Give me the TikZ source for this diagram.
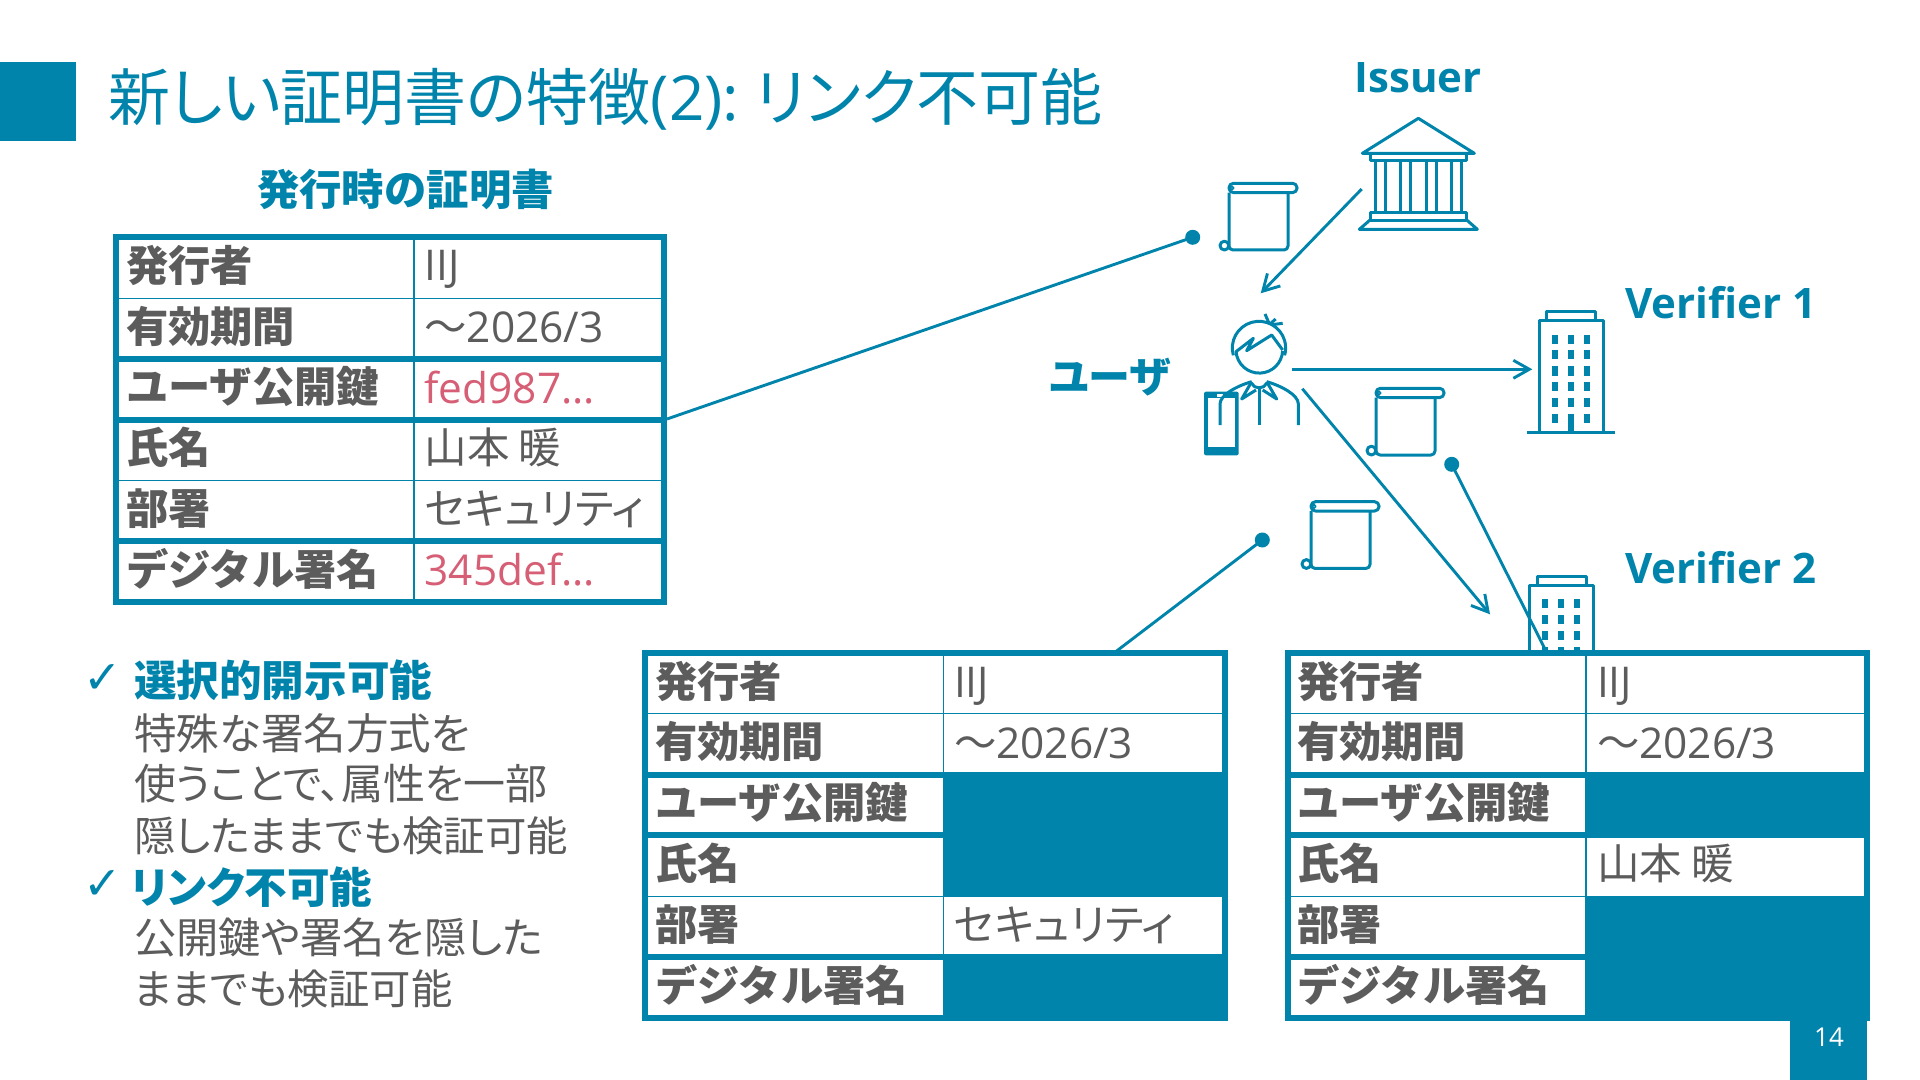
\documentclass[tikz,border=0pt]{standalone}
\usepackage{fontspec}
\usetikzlibrary{arrows.meta}
\setmainfont{Open Sans}
\newfontfamily\jp{Noto Sans CJK JP}
\newfontfamily\jpp[RawFeature={+palt}]{Noto Sans CJK JP}
\newfontfamily\sym{DejaVu Sans}
\definecolor{brand}{HTML}{0084AB}
\definecolor{ink}{HTML}{5C5C5C}
\definecolor{keyred}{HTML}{D65E75}
\tikzset{
  txt/.style={anchor=base west,inner sep=0pt,outer sep=0pt},
  lab/.style={txt,text=ink,font=\jp\bfseries\fontsize{21.15}{21}\selectfont},
  val/.style={txt,text=ink,font=\fontsize{21.2}{21}\selectfont},
  jpval/.style={val,font=\jpp\fontsize{21.25}{21}\selectfont},
  redval/.style={val,text=keyred},
  note/.style={txt,text=ink,font=\jpp\fontsize{#1}{21}\selectfont},
  notehead/.style={txt,text=brand,font=\jpp\bfseries\fontsize{21.3}{21}\selectfont},
  actor/.style={txt,text=brand,font=\bfseries\fontsize{21}{21}\selectfont},
  tick/.style={anchor=center,inner sep=0pt,text=brand,font=\sym\bfseries\fontsize{23}{23}\selectfont},
  icon/.style={draw=brand,line width=1.5pt,line join=round},
  link/.style={draw=brand,line width=1.45pt},
  flow/.style={link,-{Straight Barb[length=8pt,width=9pt,line width=1.45pt]}},
  dot/.style={circle,fill=brand,inner sep=0pt,minimum size=7.5pt},
  heavy/.style={draw=brand,line width=3pt},
  hair/.style={draw=brand,line width=0.6pt},
}
\newcommand{\rowy}[2]{#1+60.83*#2}
\newcommand{\certframe}[4]{% L C R T
  \fill[white] (#1,#4) rectangle (#3,{\rowy{#4}{6}});
  \draw[hair] (#2,#4) -- (#2,{\rowy{#4}{6}});
  \draw[hair] (#1,{\rowy{#4}{1}}) -- (#3,{\rowy{#4}{1}});
  \draw[hair] (#1,{\rowy{#4}{4}}) -- (#3,{\rowy{#4}{4}});
  \draw[heavy] (#1,{\rowy{#4}{2}}) -- (#3,{\rowy{#4}{2}});
  \draw[heavy] (#1,{\rowy{#4}{3}}) -- (#3,{\rowy{#4}{3}});
  \draw[heavy] (#1,{\rowy{#4}{5}}) -- (#3,{\rowy{#4}{5}});
}
\newcommand{\certborder}[4]{%
  \draw[heavy] (#1,#4) rectangle (#3,{\rowy{#4}{6}});
}
\newcommand{\certlabels}[3]{% prefix, x, T
  \node[lab] (#1a) at (#2,{\rowy{#3}{0}+44}) {発行者};
  \node[lab] (#1b) at (#2,{\rowy{#3}{1}+44}) {有効期間};
  \node[lab] (#1c) at (#2,{\rowy{#3}{2}+44}) {ユーザ公開鍵};
  \node[lab] (#1d) at (#2,{\rowy{#3}{3}+44}) {氏名};
  \node[lab] (#1e) at (#2,{\rowy{#3}{4}+44}) {部署};
  \node[lab] (#1f) at (#2,{\rowy{#3}{5}+44}) {デジタル署名};
}
\newcommand{\scrollicon}[2]{%
  \begin{scope}[shift={(#1,#2)}]
    \draw[icon,rounded corners=2.2pt] (1,9.3) rectangle (69,0);
    \draw[icon,rounded corners=2pt] (1,9.3) -- (1,66.7) -- (60,66.7) -- (60,9.3);
    \draw[icon] (-3.6,62.3) circle[radius=4.4];
    \draw[icon,line width=0.8pt] (4,4.7) circle[radius=1.8];
  \end{scope}
}
\newcommand{\towericon}[3]{%
  \begin{scope}[shift={(#1,#2)}]
    \draw[icon] (7.7,9) rectangle (56.7,0);
    \draw[icon] (0,121) -- (0,9) -- (64.3,9) -- (64.3,121);
    \ifnum#3=1
    \draw[icon] (-12.3,121) -- (76,121);
    \fi
    \foreach \wx in {16,32,48}
      \foreach \wy in {27.6,43.3,59.3,75,91,106.6}
        \fill[brand] ({\wx-3},{\wy-4.5}) rectangle ({\wx+3},{\wy+4.5});
    \fill[brand] (29,102) rectangle (35,121);
  \end{scope}
}
\begin{document}
\begin{tikzpicture}[x=0.5pt,y=-0.5pt]
\useasboundingbox (0,0) rectangle (1920,1080);
% slide furniture
\fill[brand] (0,62.5) rectangle (76,141);
\fill[brand] (1790,1015) rectangle (1867,1080);
\node[anchor=center,inner sep=0pt,text=white,font=\fontsize{13}{13}\selectfont] (pageno) at (1829,1037) {14};
\node[txt,text=brand,font=\fontsize{31}{31}\selectfont] (title) at (108,121) {{\jpp 新しい証明書の特徴}(2):\hspace{8pt}{\jpp リンク不可能}};
\node[txt,text=brand,font=\jp\bfseries\fontsize{21.2}{21}\selectfont] (issuedhead) at (257,206) {発行時の証明書};

% actors
\node[actor,anchor=base] (issuerlabel) at (1418,93) {Issuer};
\node[actor] (v1label) at (1625,319) {Verifier 1};
\node[actor] (v2label) at (1625,583) {Verifier 2};
\node[actor,font=\jpp\bfseries\fontsize{21}{21}\selectfont] (userlabel) at (1049,393) {ユーザ};

% bank
\begin{scope}[shift={(1150,40)},x=0.16667pt,y=-0.16667pt]
  \draw[icon] (637,340) -- (805,235) -- (973,340) -- cycle;
  \draw[icon] (660,340) rectangle (950,362);
  \foreach \cx in {675,705,752,780,828,858,905,935}
    \draw[icon] (\cx,362) -- (\cx,518);
  \draw[icon] (660,518) rectangle (950,540);
  \draw[icon] (660,540) -- (628,568) -- (982,568) -- (950,540);
\end{scope}

% user
\begin{scope}[shift={(1180,300)},x=0.16667pt,y=-0.16667pt]
  \fill[brand,rounded corners=1pt] (72,275) rectangle (176,466);
  \fill[white] (85,295) rectangle (164,441);
  \fill[white] (110,282) rectangle (128,290);
  \draw[icon] (160,166) arc[start angle=164,end angle=376,radius=80];
  \draw[icon] (168,153) arc[start angle=177,end angle=3,radius=70];
  \draw[icon] (168,155) -- (220,115) -- (200,152) -- (275,105) -- (308,150);
  \draw[icon] (255,42) -- (268,72);
  \draw[icon] (270,72) -- (287,57);
  \draw[icon] (276,74) -- (308,70);
  \draw[icon] (120,375) -- (120,312) .. controls (120,285) and (170,258) .. (215,245);
  \draw[icon] (215,245) -- (185,297) -- (228,270);
  \draw[icon] (260,245) -- (290,297) -- (248,270);
  \draw[icon] (215,250) .. controls (222,268) and (252,268) .. (260,250);
  \draw[icon] (237,265) -- (237,375);
  \draw[icon] (260,245) .. controls (305,258) and (355,285) .. (355,312) -- (355,375);
\end{scope}

% documents and verifiers
\scrollicon{1228}{183.3}
\scrollicon{1375}{388.3}
\scrollicon{1310}{501.7}
\towericon{1539}{311.7}{1}
\towericon{1529.3}{576}{0}

% connectors
\coordinate (bankout) at (1361.7,189);
\coordinate (userin) at (1260.7,293.3);
\coordinate (userv1) at (1292.3,369.3);
\coordinate (v1in) at (1532.3,369.3);
\coordinate (userv2) at (1302.3,388.7);
\coordinate (v2in) at (1490,614.3);
\coordinate (t1key) at (667,419);
\coordinate (t2top) at (1114,653);
\coordinate (t3top) at (1547,653);
\node[dot] (dot1) at (1192.7,237.3) {};
\node[dot] (dot2) at (1451.7,464.3) {};
\node[dot] (dot3) at (1262.3,540) {};
\draw[flow] (bankout) -- (userin);
\draw[flow] (userv1) -- (v1in);
\draw[flow] (userv2) -- (v2in);
\draw[link] (t1key) -- (dot1.center);
\draw[link] (t2top) -- (dot3.center);
\draw[link] (t3top) -- (dot2.center);

% table 1
\certframe{116}{414}{664}{237.3}
\certlabels{ta}{126}{237.3}
\node[val] (tav1) at (424.5,281) {IIJ};
\node[val] (tav2) at (424.5,343) {{\jp 〜}2026/3};
\node[redval] (tav3) at (424.5,403) {fed987…};
\node[jpval] (tav4) at (424.5,463) {山本 暖};
\node[jpval] (tav5) at (424.5,524) {セキュリティ};
\node[redval] (tav6) at (424.5,585) {345def…};
\certborder{116}{414}{664}{237.3}

% table 2
\certframe{645}{943.5}{1225}{653}
\fill[brand] (943.5,775) rectangle (1228,897);
\fill[brand] (943.5,957.2) rectangle (1228,1021);
\certlabels{tb}{655}{653}
\node[val] (tbv1) at (954,697) {IIJ};
\node[val] (tbv2) at (954,758) {{\jp 〜}2026/3};
\node[jpval] (tbv5) at (954,940) {セキュリティ};
\certborder{645}{943.5}{1225}{653}

% table 3
\certframe{1288}{1586}{1867}{653}
\fill[brand] (1586,775) rectangle (1870,836);
\fill[brand] (1586,897) rectangle (1870,1021);
\certlabels{tc}{1297}{653}
\node[val] (tcv1) at (1597,697) {IIJ};
\node[val] (tcv2) at (1597,758) {{\jp 〜}2026/3};
\node[jpval] (tcv4) at (1597,879) {山本 暖};
\certborder{1288}{1586}{1867}{653}

% notes
\node[tick] (tick1) at (103,679) {✓};
\node[tick] (tick2) at (103,885) {✓};
\node[notehead] (n1) at (134,696) {選択的開示可能};
\node[note=21.3] (n2) at (134,749) {特殊な署名方式を};
\node[note=21] (n3) at (134,799) {使うことで、属性を一部};
\node[note=20.7] (n4) at (134,851) {隠したままでも検証可能};
\node[notehead] (n5) at (131,903) {リンク不可能};
\node[note=21.15] (n6) at (134,953) {公開鍵や署名を隠した};
\node[note=20.65] (n7) at (134,1004) {ままでも検証可能};
\end{tikzpicture}
\end{document}
